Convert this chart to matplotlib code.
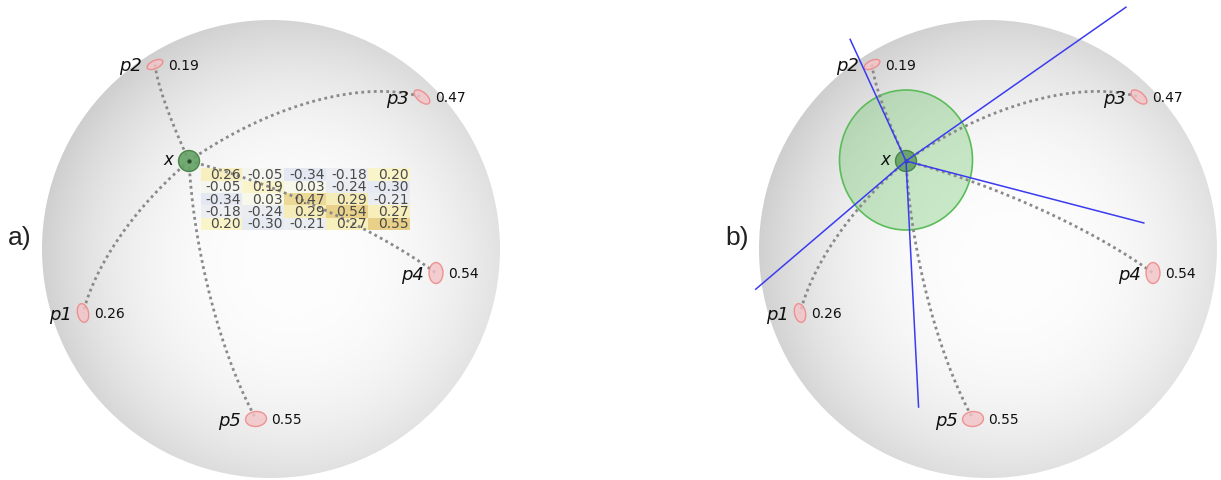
import numpy as np
import matplotlib
matplotlib.use("Agg")
import matplotlib.pyplot as plt
from matplotlib.patches import Circle, Ellipse, Rectangle
from matplotlib.colors import LinearSegmentedColormap, Normalize

# ---- data -------------------------------------------------------------
point_labels = ["p1", "p2", "p3", "p4", "p5"]
# projected positions of the samples on the sphere (image pixels)
point_px = [83, 155, 422, 436, 256]
point_py = [313, 64.5, 97, 273, 419]
# reference point x
anchor_px, anchor_py = 189, 161

# Gram matrix of the tangent vectors at x
gram = [
    [0.26, -0.05, -0.34, -0.18, 0.20],
    [-0.05, 0.19, 0.03, -0.24, -0.30],
    [-0.34, 0.03, 0.47, 0.29, -0.21],
    [-0.18, -0.24, 0.29, 0.54, 0.27],
    [0.20, -0.30, -0.21, 0.27, 0.55],
]
panel_labels = ["a)", "b)"]

# ---- geometry / style ---------------------------------------------------
W, H = 1221, 480
sphere_cx, sphere_cy, R = 271, 249, 229
panel_dx = [0, 717]
ell_shape = [(19, 11, 78), (17, 8, -25), (19, 9.5, 40), (14, 21, 0), (21, 15, -5)]
tangent_scale = 0.947

dot_style = dict(ls=(0, (1, 1.25)), lw=2.0, color="#8a8a8a", zorder=4)

fig = plt.figure(figsize=(W / 100, H / 100), dpi=100)
ax = fig.add_axes([0, 0, 1, 1])
ax.set_xlim(0, W)
ax.set_ylim(H, 0)
ax.axis("off")


def lift(px, py):
    dx, dy = px - sphere_cx, py - sphere_cy
    z = np.sqrt(max(R * R - dx * dx - dy * dy, 0.0))
    return np.array([dx, dy, z]) / R


def geodesic(a, b, n=300):
    th = np.arccos(np.clip(a @ b, -1, 1))
    t = np.linspace(0, 1, n)[:, None]
    return (np.sin((1 - t) * th) * a + np.sin(t * th) * b) / np.sin(th) * R


def log_map(a, b):
    th = np.arccos(np.clip(a @ b, -1, 1))
    v = b - np.cos(th) * a
    return v / np.linalg.norm(v) * th * R


def sphere_image():
    n = 500
    xs = np.linspace(-R, R, n)
    X, Y = np.meshgrid(xs, xs)
    hx, hy = 22, 14
    d = np.sqrt((X - hx) ** 2 + (Y - hy) ** 2) / R
    v = 0.995 - 0.14 * np.clip(d, 0, 1.3) ** 2.6
    v = np.clip(v, 0, 1)
    return np.dstack([v, v, v])


cmap = LinearSegmentedColormap.from_list(
    "gram",
    [(0.0, "#d3daf5"), (0.5, "#f7f7ef"), (0.68, "#faf4c2"), (1.0, "#e5c776")],
)
norm = Normalize(-0.6, 0.6)

x_vec = lift(anchor_px, anchor_py)
p_vecs = [lift(px, py) for px, py in zip(point_px, point_py)]
diag = [gram[i][i] for i in range(5)]

for k, off in enumerate(panel_dx):
    cx = sphere_cx + off
    img = sphere_image()
    im = ax.imshow(img, extent=(cx - R, cx + R, sphere_cy + R, sphere_cy - R),
                   interpolation="bilinear", zorder=0)
    clip = Circle((cx, sphere_cy), R, transform=ax.transData)
    im.set_clip_path(clip)

    ax_x, ax_y = anchor_px + off, anchor_py

    if k == 1:
        ax.add_patch(Ellipse((ax_x, ax_y - 1), 133, 140, facecolor="#5cc05c",
                             alpha=0.32, edgecolor="none", zorder=2))
        ax.add_patch(Ellipse((ax_x, ax_y - 1), 133, 140, facecolor="none",
                             edgecolor="#5cbc5c", lw=1.2, zorder=2))

    # geodesics from x to every sample
    for p in p_vecs:
        g = geodesic(x_vec, p)
        ax.plot(sphere_cx + off + g[:, 0], sphere_cy + g[:, 1], **dot_style)

    if k == 1:
        for p in p_vecs:
            v = log_map(x_vec, p) * tangent_scale
            ax.plot([ax_x, ax_x + v[0]], [ax_y, ax_y + v[1]],
                    color="#3b3bf0", lw=1.1, zorder=6, solid_capstyle="butt")

    # reference point x
    ax.add_patch(Circle((ax_x, ax_y), 10.5, facecolor="#64a064", alpha=0.9,
                        edgecolor="#3f7f3f", lw=1.0, zorder=5))
    ax.plot([ax_x], [ax_y], "o", ms=2.0, color="#2a4a2a", zorder=5.5)
    ax.text(ax_x - 16, ax_y - 1, "x", fontstyle="italic", fontsize=12,
            ha="right", va="center", color="#111111", zorder=7)

    # samples
    for i, (px, py) in enumerate(zip(point_px, point_py)):
        w, h, ang = ell_shape[i]
        a = np.deg2rad(ang)
        hx = np.sqrt((w / 2 * np.cos(a)) ** 2 + (h / 2 * np.sin(a)) ** 2)
        ax.add_patch(Ellipse((px + off, py), w, h, angle=ang,
                             facecolor="#f3c3c6", alpha=0.8,
                             edgecolor="#ee8080", lw=1.0, zorder=5))
        ax.text(px + off - hx - 5, py + 1.5, point_labels[i], fontstyle="italic",
                fontsize=13, ha="right", va="center", color="#111111", zorder=7)
        ax.text(px + off + hx + 5, py + 1.5, f"{diag[i]:.2f}", fontsize=10,
                ha="left", va="center", color="#111111", zorder=7)

    ax.text(20 + off, 238, panel_labels[k], fontsize=19, family="Liberation Sans",
            ha="center", va="center", color="#222222")

# Gram matrix table next to x in panel a
x0, y0 = 200.5, 168.3
cw, ch = 41.9, 12.35
for r in range(5):
    for c in range(5):
        val = gram[r][c]
        ax.add_patch(Rectangle((x0 + c * cw, y0 + r * ch), cw, ch,
                               facecolor=cmap(norm(val)), edgecolor="none",
                               alpha=0.92, zorder=3))
        ax.text(x0 + (c + 1) * cw - 1.2, y0 + (r + 0.5) * ch + 0.6, f"{val:.2f}",
                fontsize=10, ha="right", va="center", color="#4a4a4a", zorder=6)

fig.savefig("out.png", dpi=100)
